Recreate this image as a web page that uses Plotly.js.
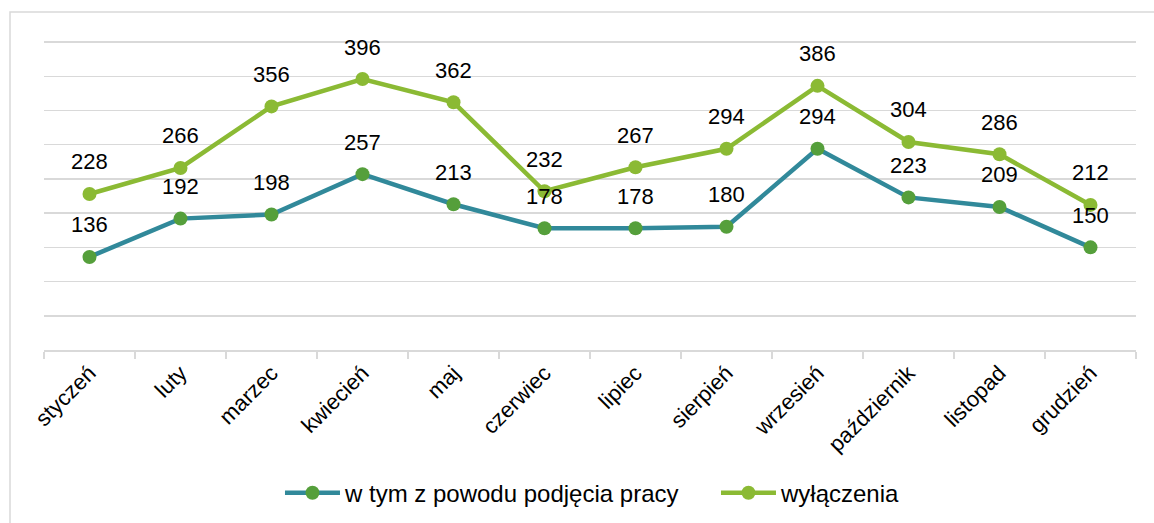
<!DOCTYPE html>
<html>
<head>
<meta charset="utf-8">
<script src="https://cdn.plot.ly/plotly-3.0.1.min.js"></script>
<style>
  html, body { margin: 0; padding: 0; background: #fff; }
  #chart { width: 1154px; height: 523px; }
</style>
</head>
<body>
<div id="chart"></div>
<script>
const months = ["styczeń", "luty", "marzec", "kwiecień", "maj", "czerwiec", "lipiec", "sierpień", "wrzesień", "październik", "listopad", "grudzień"];
const podjeciePracy = [136, 192, 198, 257, 213, 178, 178, 180, 294, 223, 209, 150];
const wylaczenia = [228, 266, 356, 396, 362, 232, 267, 294, 386, 304, 286, 212];
const seriesNames = ["w tym z powodu podjęcia pracy", "wyłączenia"];

const FONT = "Liberation Sans, Arial, sans-serif";
const teal = "#31899A";
const tealMarker = "#559F3B";
const lime = "#8BBA34";

const traces = [
  {
    x: months, y: podjeciePracy, name: seriesNames[0],
    type: "scatter", mode: "lines+markers",
    line: { color: teal, width: 4.5 },
    marker: { color: tealMarker, size: 14 }
  },
  {
    x: months, y: wylaczenia, name: seriesNames[1],
    type: "scatter", mode: "lines+markers",
    line: { color: lime, width: 4.5 },
    marker: { color: lime, size: 14 }
  }
];

const annotations = [];
[podjeciePracy, wylaczenia].forEach(series => {
  series.forEach((v, i) => {
    annotations.push({
      x: months[i], y: v, text: String(v),
      showarrow: false, yshift: 32, yanchor: "middle",
      font: { family: FONT, size: 22, color: "#000" }
    });
  });
});

// plot area: x 44..1136, y 40..350 ; range top 453 so the 450 gridline sits at y≈42
const layout = {
  width: 1154, height: 523,
  margin: { l: 44, r: 18, t: 40, b: 173, pad: 0, autoexpand: false },
  paper_bgcolor: "#fff", plot_bgcolor: "#fff",
  font: { family: FONT, color: "#000" },
  showlegend: true,
  legend: {
    orientation: "h", x: 0.2161, xanchor: "left", y: -0.462, yanchor: "middle",
    font: { family: FONT, size: 24, color: "#000" },
    itemwidth: 55, entrywidth: 366, entrywidthmode: "pixels"
  },
  xaxis: {
    type: "category", range: [-0.5, 11.5],
    tickson: "boundaries", ticks: "outside", ticklen: 7, tickcolor: "#d9d9d9", tickwidth: 1.5,
    showline: true, linecolor: "#d9d9d9", linewidth: 1.5,
    showgrid: false, zeroline: false,
    tickangle: -45,
    tickfont: { family: FONT, size: 22, color: "#000" }
  },
  yaxis: {
    range: [0, 453], dtick: 50, tick0: 0,
    showticklabels: false, ticks: "",
    showgrid: true, gridcolor: "#d9d9d9", gridwidth: 1.5,
    zeroline: false, showline: false
  },
  annotations: annotations,
  shapes: [{
    type: "rect", xref: "paper", yref: "paper", layer: "below",
    x0: (10 - 44) / 1092, x1: 1.2,
    y0: -0.7, y1: (350 - 12) / 310,
    line: { color: "#d9d9d9", width: 1.5 }, fillcolor: "rgba(0,0,0,0)"
  }]
};

Plotly.newPlot("chart", traces, layout, { staticPlot: true, displayModeBar: false });
</script>
</body>
</html>
